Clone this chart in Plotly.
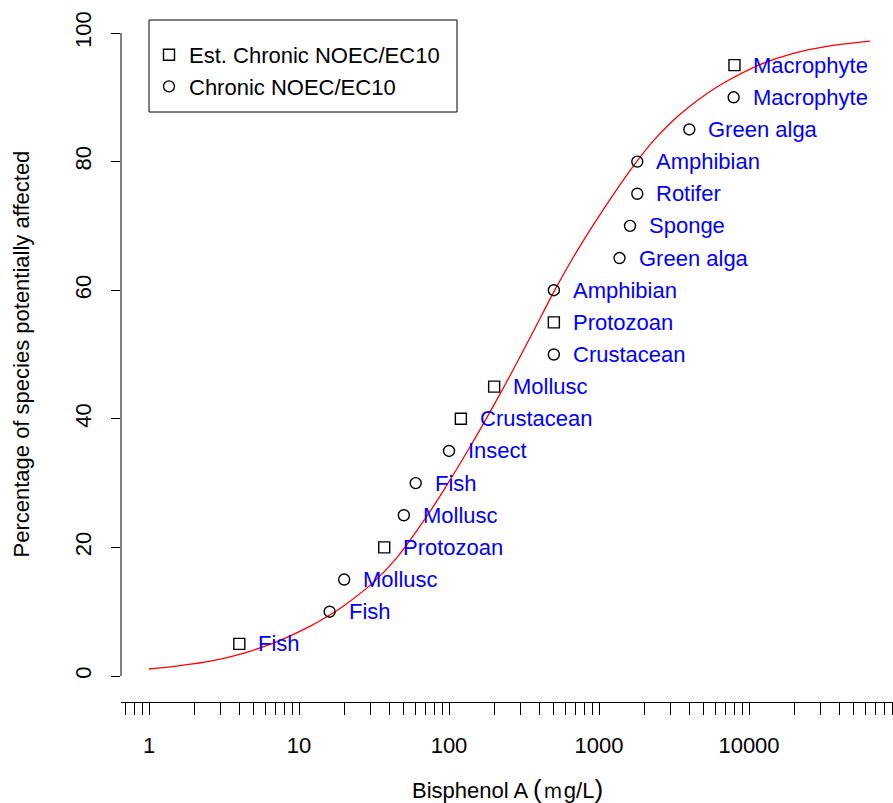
import numpy as np
import plotly.graph_objects as go

# ---------------- data ----------------
est_x = [4, 37, 120, 200, 500, 8000]
est_y = [5, 20, 40, 45, 55, 95]
est_labels = ["Fish", "Protozoan", "Crustacean", "Mollusc", "Protozoan", "Macrophyte"]

chr_x = [16, 20, 50, 60, 100, 500, 500, 1370, 1610, 1800, 1800, 4000, 7900]
chr_y = [10, 15, 25, 30, 35, 50, 60, 65, 70, 75, 80, 85, 90]
chr_labels = ["Fish", "Mollusc", "Mollusc", "Fish", "Insect", "Crustacean", "Amphibian",
              "Green alga", "Sponge", "Rotifer", "Amphibian", "Green alga", "Macrophyte"]

# fitted curve
curve_x = [1.0, 1.568, 2.618, 4.365, 7.278, 12.15, 16.52, 20.26, 31.28, 44.8, 71.0, 96.5,
           134.5, 197.4, 268.3, 364.8, 495.8, 674.1, 916.2, 1245.5, 1693, 2301, 2974, 3843,
           5224, 7100, 11840, 19740, 32960, 64070]
curve_y = [1.09, 1.59, 2.36, 3.61, 5.43, 7.87, 9.67, 11.04, 14.56, 18.38, 24.82, 29.64,
           35.18, 41.98, 47.67, 53.58, 59.58, 65.12, 70.16, 74.88, 79.30, 83.22, 85.94, 88.23,
           90.56, 92.49, 95.09, 96.84, 97.93, 98.74]

y_ticks = [0, 20, 40, 60, 80, 100]
x_decades = [1, 10, 100, 1000, 10000]
x_decade_labels = ["1", "10", "100", "1000", "10000"]

legend_names = ["Est. Chronic NOEC/EC10", "Chronic NOEC/EC10"]
x_title = "Bisphenol A <span style='font-size:26px'>(</span>ｍg/L<span style='font-size:26px'>)</span>"
y_title = "Percentage of species potentially affected"

# ---------------- layout constants ----------------
W, H = 893, 803
L, R, T, B = 121, 0, 7, 101
PW, PH = W - L - R, H - T - B
FONT = "Liberation Sans, Arial, Helvetica, sans-serif"
FS = 22

def px_to_paper(px, py):
    return (px - L) / PW, (H - B - py) / PH

# minor + major ticks on the log axis
tick_vals, tick_text = [], []
for d in [0.1, 1, 10, 100, 1000, 10000]:
    for k in range(1, 10):
        v = round(k * d, 6)
        if 0.65 < v < 95000:
            tick_vals.append(v)
            tick_text.append(x_decade_labels[x_decades.index(v)] if v in x_decades else "")

fig = go.Figure()

fig.add_trace(go.Scatter(x=curve_x, y=curve_y, mode="lines",
                         line=dict(color="red", width=1.3, shape="spline", smoothing=1.0),
                         showlegend=False, hoverinfo="skip"))

fig.add_trace(go.Scatter(x=est_x, y=est_y, mode="markers", name=legend_names[0],
                         marker=dict(symbol="square-open", size=11, color="black",
                                     line=dict(width=1.4, color="black"))))
fig.add_trace(go.Scatter(x=chr_x, y=chr_y, mode="markers", name=legend_names[1],
                         marker=dict(symbol="circle-open", size=11, color="black",
                                     line=dict(width=1.4, color="black"))))

annotations = []
for xs, ys, labs in [(est_x, est_y, est_labels), (chr_x, chr_y, chr_labels)]:
    for xv, yv, lab in zip(xs, ys, labs):
        annotations.append(dict(x=np.log10(xv), y=yv, xref="x", yref="y", text=lab,
                                showarrow=False, xanchor="left", yanchor="middle",
                                xshift=17, font=dict(color="#0000FF", size=FS, family=FONT)))

# axis titles
annotations.append(dict(x=0.5, y=0, xref="paper", yref="paper", text=x_title, showarrow=False,
                        xanchor="center", yanchor="middle", yshift=-87,
                        font=dict(size=FS, family=FONT, color="black")))
annotations.append(dict(x=0, y=50, xref="paper", yref="y", text=y_title, showarrow=False,
                        textangle=-90, xanchor="center", yanchor="middle", xshift=-100,
                        font=dict(size=FS, family=FONT, color="black")))

lx0, ly0 = px_to_paper(149, 112)
lx1, ly1 = px_to_paper(457, 20)
shapes = [
    dict(type="line", xref="paper", yref="y", x0=0, x1=0, y0=0, y1=100,
         line=dict(color="black", width=1)),
    dict(type="rect", xref="paper", yref="paper", x0=lx0, x1=lx1, y0=ly0, y1=ly1,
         line=dict(color="black", width=1), fillcolor="white", layer="below"),
]

leg_x, leg_y = px_to_paper(149, 34)

fig.update_layout(
    width=W, height=H,
    margin=dict(l=L, r=R, t=T, b=B, pad=0),
    paper_bgcolor="white", plot_bgcolor="white",
    font=dict(family=FONT, size=FS, color="black"),
    showlegend=True,
    legend=dict(x=leg_x, y=leg_y, xanchor="left", yanchor="top", bgcolor="rgba(0,0,0,0)",
                borderwidth=0, font=dict(size=FS, family=FONT), tracegroupgap=0),
    xaxis=dict(type="log", range=[(L - 149) / 150, (W - R - 149) / 150],
               tickvals=tick_vals, ticktext=tick_text, ticks="outside", ticklen=12,
               tickwidth=1, tickcolor="black", showline=True, linecolor="black", linewidth=1,
               showgrid=False, zeroline=False, tickfont=dict(size=FS, family=FONT),
               ticklabelstandoff=12),
    yaxis=dict(range=[(676 - (H - B)) / 6.43, (676 - T) / 6.43],
               tickvals=y_ticks, ticks="outside", ticklen=9, tickwidth=1, tickcolor="black",
               showline=False, showgrid=False, zeroline=False, tickangle=-90,
               tickfont=dict(size=FS, family=FONT), ticklabelstandoff=11),
    annotations=annotations,
    shapes=shapes,
)

fig.write_html("out.html", config={"displayModeBar": False},
               post_script="document.body.style.margin='0';document.body.style.padding='0';")
